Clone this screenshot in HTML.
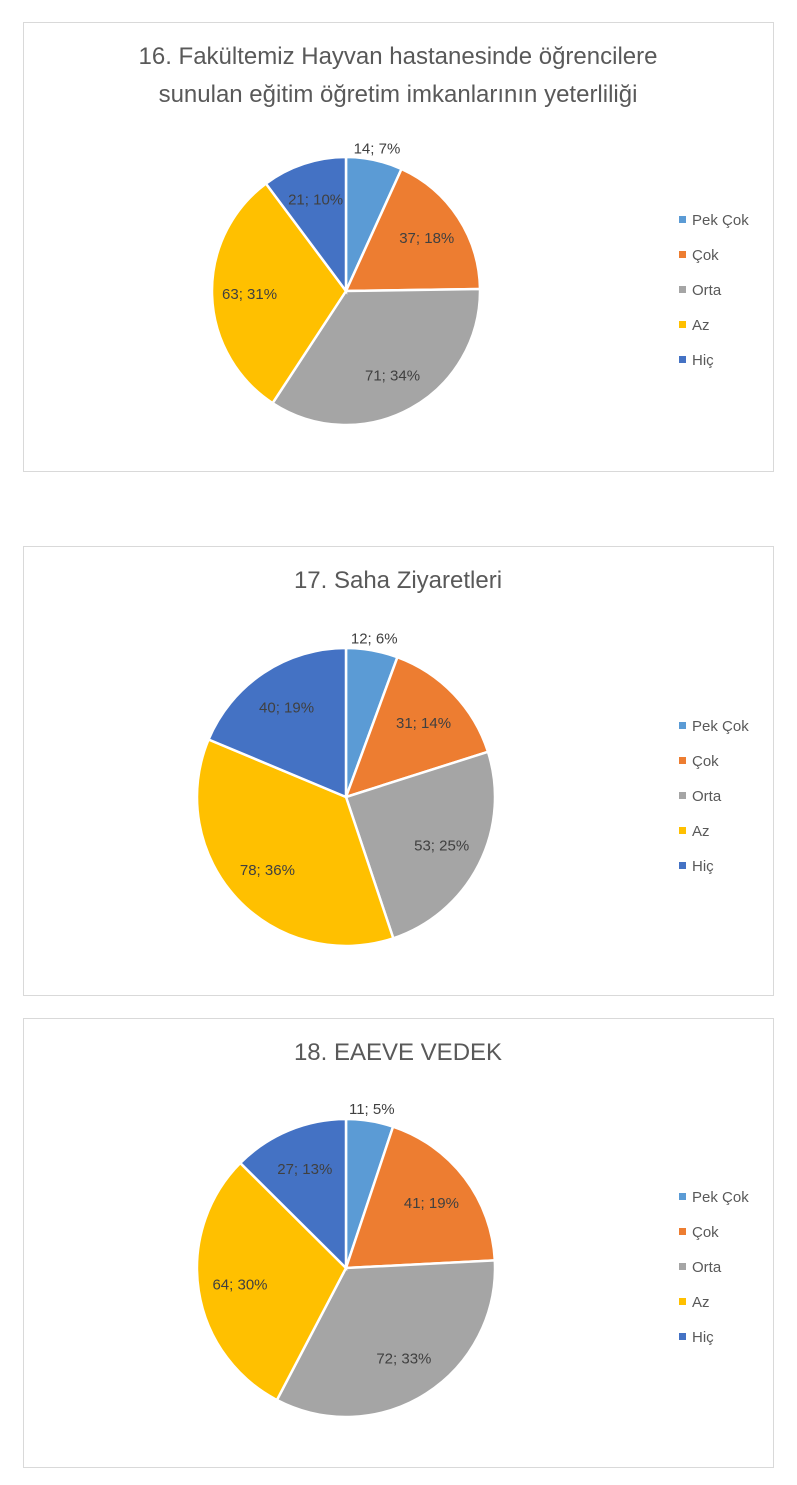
<!DOCTYPE html>
<html><head><meta charset="utf-8">
<style>
body{margin:0;background:#fff;font-family:"Liberation Sans",sans-serif;}
svg{display:block}
</style></head>
<body>
<svg id="chart" width="797" height="1485" viewBox="0 0 797 1485" xmlns="http://www.w3.org/2000/svg"></svg>
<script>
const categories = ["Pek Çok","Çok","Orta","Az","Hiç"];
const colors = ["#5B9BD5","#ED7D31","#A5A5A5","#FFC000","#4472C4"];
const values16 = [14,37,71,63,21];
const values17 = [12,31,53,78,40];
const values18 = [11,41,72,64,27];
const titles16 = ["16. Fakültemiz Hayvan hastanesinde öğrencilere","sunulan eğitim öğretim imkanlarının yeterliliği"];
const titles17 = ["17. Saha Ziyaretleri"];
const titles18 = ["18. EAEVE VEDEK"];

const NS="http://www.w3.org/2000/svg";
const svg=document.getElementById('chart');
function mk(tag,attrs,parent){const e=document.createElementNS(NS,tag);for(const k in attrs)e.setAttribute(k,attrs[k]);(parent||svg).appendChild(e);return e;}

function drawChart(id,top,values,titles,cy,r){
  const g=mk('g',{});
  
  
  const box=mk('rect',{x:23.5,y:top+0.5,width:750,height:449,fill:'#fff',stroke:'#D9D9D9','stroke-width':1},g);
  
  
  titles.forEach((t,i)=>{
    const tx=mk('text',{x:398,y:top+42+i*38,'text-anchor':'middle','font-size':24,fill:'#595959'},g);
    tx.textContent=t;
    
    
  });
  const cx=346;
  const total=values.reduce((a,b)=>a+b,0);
  let acc=0;
  values.forEach((v,i)=>{
    const a0=acc/total*2*Math.PI, a1=(acc+v)/total*2*Math.PI; acc+=v;
    const x0=cx+r*Math.sin(a0), y0=cy-r*Math.cos(a0), x1=cx+r*Math.sin(a1), y1=cy-r*Math.cos(a1);
    const large=(a1-a0)>Math.PI?1:0;
    const p=mk('path',{d:`M${cx},${cy} L${x0},${y0} A${r},${r} 0 ${large} 1 ${x1},${y1} Z`,fill:colors[i],stroke:'#fff','stroke-width':2.5},g);
    
    
    const pct=Math.round(v/total*100);
    const am=(a0+a1)/2;
    const lr = pct<8 ? r+12 : r*0.72;
    const lx=cx+lr*Math.sin(am), ly=cy-lr*Math.cos(am);
    const t=mk('text',{x:lx,y:ly+5,'text-anchor':'middle','font-size':15,fill:'#404040'},g);
    t.textContent=v+'; '+pct+'%';
    
    
  });
  categories.forEach((c,i)=>{
    const ly=cy-71+i*35;
    const s=mk('rect',{x:679,y:ly-4,width:7,height:7,fill:colors[i]},g);
    
    
    const t=mk('text',{x:692,y:ly+5,'font-size':15,fill:'#595959'},g);
    t.textContent=c;
    
    
  });
}
drawChart(16,22,values16,titles16,291,134);
drawChart(17,546,values17,titles17,797,149);
drawChart(18,1018,values18,titles18,1268,149);
</script>
</body></html>
